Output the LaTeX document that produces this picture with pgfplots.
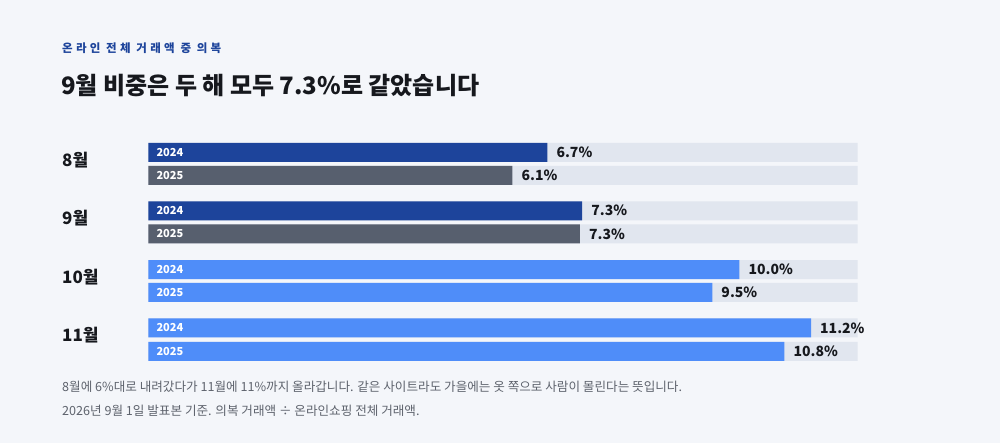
\documentclass[border=0pt]{standalone}
\usepackage{fontspec}
\usepackage{pgfplots}
\pgfplotsset{compat=1.18}
\setmainfont{Noto Sans CJK KR}
\newfontfamily\spaced{Noto Sans CJK KR}[LetterSpace=28]
\definecolor{bg}{HTML}{F4F6FA}
\definecolor{track}{HTML}{E1E6EF}
\definecolor{navy}{HTML}{1D449B}
\definecolor{slate}{HTML}{575F6E}
\definecolor{sky}{HTML}{4F8DF9}
\definecolor{ink}{HTML}{16181D}
\definecolor{note}{HTML}{5E636D}
\tikzset{yr/.style={anchor=west, inner sep=0pt, text=white, xshift=8pt,
  font=\bfseries\fontsize{11}{13}\selectfont}}

\begin{document}
\begin{tikzpicture}
  \fill[bg] (0,0) rectangle (1000pt,443pt);
  \path[use as bounding box] (0,0) rectangle (1000pt,443pt);

  % header
  \node[anchor=west, inner sep=0pt, text=navy] at (62pt,395pt)
    {\spaced\bfseries\fontsize{11.5}{13}\selectfont 온라인 전체 거래액 중 의복};
  \node[anchor=west, inner sep=0pt, text=ink] at (61pt,357pt)
    {\bfseries\fontsize{24}{28}\selectfont 9월 비중은 두 해 모두 7.3\%로 같았습니다};

  % y = minus pixel row of the bar centre, x = share (%)
  \begin{axis}[
    at={(148.3pt,0pt)}, anchor=south west,
    scale only axis, width=709.4pt, height=443pt,
    xmin=0, xmax=12, ymin=-443, ymax=0,
    hide axis, clip=false,
    xbar, bar shift=0pt, bar width=19pt,
    every axis plot/.append style={draw=none},
    nodes near coords style={anchor=west, inner sep=0pt, xshift=9pt,
      text=ink, font=\bfseries\fontsize{14}{16}\selectfont},
  ]
    \addplot[fill=track] coordinates {
      (12,-152.3) (12,-175.5) (12,-210.8) (12,-233.8)
      (12,-269.7) (12,-292.5) (12,-328.0) (12,-351.3)};
    \addplot[fill=navy, nodes near coords, point meta=explicit symbolic]
      coordinates {(6.75,-152.3) [6.7\%] (7.34,-210.8) [7.3\%]};
    \addplot[fill=slate, nodes near coords, point meta=explicit symbolic]
      coordinates {(6.16,-175.5) [6.1\%] (7.30,-233.8) [7.3\%]};
    \addplot[fill=sky, nodes near coords, point meta=explicit symbolic]
      coordinates {(10.00,-269.7) [10.0\%] (9.54,-292.5) [9.5\%]
                   (11.21,-328.0) [11.2\%] (10.76,-351.3) [10.8\%]};

    \node[yr] at (axis cs:0,-152.3) {2024};
    \node[yr] at (axis cs:0,-175.5) {2025};
    \node[yr] at (axis cs:0,-210.8) {2024};
    \node[yr] at (axis cs:0,-233.8) {2025};
    \node[yr] at (axis cs:0,-269.7) {2024};
    \node[yr] at (axis cs:0,-292.5) {2025};
    \node[yr] at (axis cs:0,-328.0) {2024};
    \node[yr] at (axis cs:0,-351.3) {2025};
  \end{axis}

  % month labels
  \foreach \yy/\mm in {283/8월, 224.5/9월, 166/10월, 108/11월}
    \node[anchor=west, inner sep=0pt, text=ink] at (62pt,\yy pt)
      {\bfseries\fontsize{17}{20}\selectfont\mm};

  % notes
  \node[anchor=west, inner sep=0pt, text=note] at (62pt,56pt)
    {\fontsize{12.6}{15}\selectfont 8월에 6\%대로 내려갔다가 11월에 11\%까지 올라갑니다. 같은 사이트라도 가을에는 옷 쪽으로 사람이 몰린다는 뜻입니다.};
  \node[anchor=west, inner sep=0pt, text=note] at (62pt,32pt)
    {\fontsize{12.6}{15}\selectfont 2026년 9월 1일 발표본 기준. 의복 거래액 ÷ 온라인쇼핑 전체 거래액.};
\end{tikzpicture}
\end{document}
